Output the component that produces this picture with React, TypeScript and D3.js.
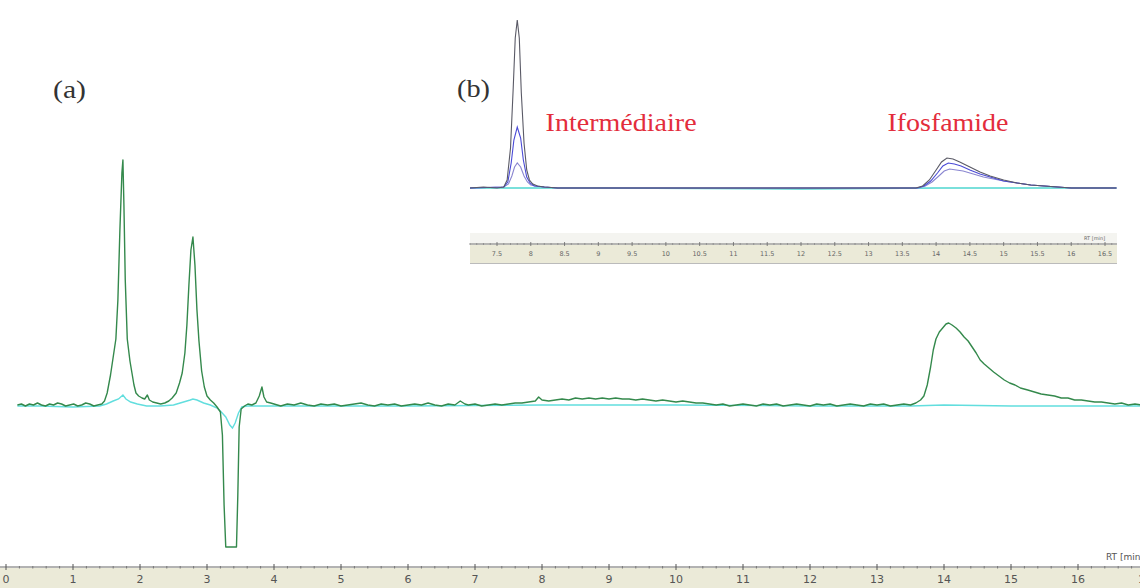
import React from 'react';
import * as d3 from 'd3';

const W = 1140;
const H = 588;

// ---- (a) main chromatogram: [retention time (min), signal (a.u.)] ----
const mainGreen: [number, number][] = [
  [0.17, 0], [0.23, 1], [0.29, -1], [0.35, 1], [0.41, 0], [0.47, 2], [0.53, 0], [0.59, -1], [0.65, 1], [0.71, 0],
  [0.77, 2], [0.83, 1], [0.89, -1], [0.95, 0], [1.01, 1], [1.07, -1], [1.13, 0], [1.19, 2], [1.25, 1], [1.31, -1],
  [1.37, 0], [1.43, 1], [1.47, 4], [1.51, 12], [1.56, 30], [1.60, 48], [1.64, 66], [1.67, 105], [1.70, 175], [1.73, 232],
  [1.745, 245], [1.76, 200], [1.78, 125], [1.81, 66], [1.85, 44], [1.88, 32], [1.91, 20], [1.94, 12], [1.98, 9], [2.03, 7],
  [2.07, 6], [2.11, 10], [2.14, 5], [2.19, 3], [2.25, 2], [2.31, 1], [2.37, 2], [2.43, 4], [2.48, 7], [2.54, 12],
  [2.59, 22], [2.63, 32], [2.67, 52], [2.70, 80], [2.73, 120], [2.76, 155], [2.79, 168], [2.82, 140], [2.85, 95], [2.88, 64],
  [2.92, 34], [2.96, 18], [3.00, 9], [3.05, 5], [3.10, 2], [3.15, -2], [3.20, -7], [3.23, -30], [3.255, -100], [3.28, -142],
  [3.44, -142], [3.46, -90], [3.48, -22], [3.51, -4], [3.56, -1], [3.61, 1], [3.67, 0], [3.73, 2], [3.78, 9], [3.82, 18],
  [3.85, 8], [3.89, 3], [3.95, 2], [4.0, 1], [4.1, -1], [4.2, 1], [4.3, 0], [4.4, 2], [4.5, 0], [4.6, -1],
  [4.7, 1], [4.8, 0], [4.9, 1], [5.0, -1], [5.1, 0], [5.2, 1], [5.3, 2], [5.4, 0], [5.5, -1], [5.6, 1],
  [5.7, 0], [5.8, 1], [5.9, -1], [6.0, 0], [6.1, 1], [6.2, 0], [6.3, 2], [6.4, 0], [6.5, -1], [6.6, 1],
  [6.7, 0], [6.78, 4], [6.85, 1], [6.9, 0], [7.0, 1], [7.1, -1], [7.2, 0], [7.3, 1], [7.4, 0], [7.5, 1],
  [7.6, 2], [7.7, 2], [7.8, 3], [7.9, 4], [7.95, 8], [8.0, 5], [8.1, 4], [8.2, 5], [8.3, 6], [8.4, 5],
  [8.5, 7], [8.6, 6], [8.7, 7], [8.8, 6], [8.9, 7], [9.0, 6], [9.1, 7], [9.2, 6], [9.3, 6], [9.4, 5],
  [9.5, 6], [9.6, 5], [9.7, 4], [9.8, 5], [9.9, 4], [10.0, 3], [10.1, 4], [10.2, 3], [10.3, 2], [10.4, 2],
  [10.5, 1], [10.6, 0], [10.7, 1], [10.8, -1], [10.9, 0], [11.0, 1], [11.1, 0], [11.2, -1], [11.3, 1], [11.4, 0],
  [11.5, 1], [11.6, -1], [11.7, 0], [11.8, 1], [11.9, 0], [12.0, -1], [12.1, 1], [12.2, 0], [12.3, 1], [12.4, -1],
  [12.5, 0], [12.6, 1], [12.7, 0], [12.8, -1], [12.9, 1], [13.0, 0], [13.1, 1], [13.2, -1], [13.3, 0], [13.4, 1],
  [13.5, 0], [13.58, 2], [13.65, 5], [13.70, 9], [13.75, 20], [13.80, 38], [13.84, 55], [13.88, 66], [13.93, 73], [13.98, 77],
  [14.03, 81], [14.07, 82], [14.12, 80], [14.18, 77], [14.24, 73], [14.30, 68], [14.36, 64], [14.42, 58], [14.48, 52], [14.54, 45],
  [14.60, 41], [14.67, 37], [14.74, 33], [14.82, 29], [14.90, 25], [14.98, 22], [15.06, 20], [15.14, 17], [15.25, 15], [15.35, 13],
  [15.45, 11], [15.55, 10], [15.65, 9], [15.75, 7], [15.85, 7], [15.95, 5], [16.05, 5], [16.15, 4], [16.25, 3], [16.35, 3],
  [16.45, 2], [16.55, 1], [16.65, 2], [16.75, 0], [16.85, 1], [16.95, 0],
];

const mainCyan: [number, number][] = [
  [0.17, -1], [0.5, -1], [1.0, -2], [1.4, -1], [1.5, 1], [1.6, 4], [1.68, 6], [1.745, 10], [1.79, 6], [1.86, 3],
  [1.96, 1], [2.1, -1], [2.3, -1], [2.5, 0], [2.65, 3], [2.75, 5], [2.79, 6], [2.85, 5], [2.95, 2], [3.05, 0],
  [3.15, -3], [3.2, -6], [3.28, -12], [3.34, -20], [3.38, -23], [3.42, -18], [3.47, -8], [3.52, -2], [3.6, -1], [4.0, -1],
  [6.0, -1], [8.0, 0], [10.0, 0], [12.0, -1], [13.5, -1], [14.0, 0], [15.0, -1], [16.95, -1],
];

const mainTickValues = [0, 1, 2, 3, 4, 5, 6, 7, 8, 9, 10, 11, 12, 13, 14, 15, 16, 17];

// ---- (b) inset: three injections (grey, blue, lavender) + blank (cyan) ----
const insetGrey: [number, number][] = [
  [7.1, 0], [7.3, 1], [7.5, 0], [7.6, 1], [7.65, 8], [7.7, 40], [7.74, 100], [7.77, 150], [7.80, 168], [7.83, 150],
  [7.86, 95], [7.9, 45], [7.94, 18], [7.98, 8], [8.03, 4], [8.1, 2], [8.2, 1], [8.4, 0], [13.7, 0], [13.8, 2],
  [13.9, 8], [14.0, 18], [14.08, 26], [14.16, 30], [14.25, 29], [14.35, 26], [14.5, 21], [14.65, 16], [14.8, 12], [15.0, 8],
  [15.2, 5], [15.4, 3], [15.6, 2], [15.8, 1], [16.0, 0], [16.67, 0],
];
const insetBlue: [number, number][] = [
  [7.1, 0], [7.6, 1], [7.66, 6], [7.71, 25], [7.75, 48], [7.80, 61], [7.85, 50], [7.89, 28], [7.94, 11], [7.99, 5],
  [8.05, 2], [8.2, 1], [8.4, 0], [13.72, 0], [13.82, 2], [13.92, 7], [14.02, 15], [14.1, 22], [14.18, 25], [14.27, 24],
  [14.37, 22], [14.5, 18], [14.65, 14], [14.8, 11], [15.0, 7], [15.2, 5], [15.4, 3], [15.6, 2], [15.8, 1], [16.0, 0],
  [16.67, 0],
];
const insetLavender: [number, number][] = [
  [7.1, 0], [7.6, 1], [7.67, 4], [7.72, 12], [7.76, 21], [7.80, 25], [7.85, 21], [7.9, 12], [7.95, 6], [8.0, 3],
  [8.08, 2], [8.2, 1], [8.4, 0], [13.74, 0], [13.84, 2], [13.94, 6], [14.04, 12], [14.12, 17], [14.2, 19], [14.3, 18],
  [14.4, 17], [14.55, 14], [14.7, 11], [14.85, 9], [15.0, 7], [15.2, 5], [15.4, 3], [15.6, 2], [15.8, 1], [16.0, 0],
  [16.67, 0],
];
const insetCyan: [number, number][] = [
  [7.1, 0], [9.0, 0], [12.0, -1], [14.0, 0], [16.67, 0],
];

const insetTickValues = [7.5, 8, 8.5, 9, 9.5, 10, 10.5, 11, 11.5, 12, 12.5, 13, 13.5, 14, 14.5, 15, 15.5, 16, 16.5];

const compoundLabels = ['Intermédiaire', 'Ifosfamide'];
const compoundLabelTimes = [8.22, 13.28];
const panelLabels = ['(a)', '(b)'];

export default function App() {
  const xMain = d3.scaleLinear().domain([0, 17]).range([6, 1145]);
  const yMain = d3.scaleLinear().domain([-150, 250]).range([555, 155]);
  const lineMain = d3
    .line<[number, number]>()
    .x((d) => xMain(d[0]))
    .y((d) => yMain(d[1]));

  const xIn = d3.scaleLinear().domain([7.5, 16.5]).range([497, 1105]);
  const yIn = d3.scaleLinear().domain([0, 170]).range([188, 18]);
  const lineIn = d3
    .line<[number, number]>()
    .x((d) => xIn(d[0]))
    .y((d) => yIn(d[1]));

  const mainMinor = d3.range(0, 17.01, 0.2).filter((v) => Math.abs(v - Math.round(v)) > 0.01);
  const insetMinor = d3.range(7.1, 16.7, 0.1).filter((v) => Math.abs(v * 2 - Math.round(v * 2)) > 0.01);

  const axisY = 567;
  const inAxisY = 244;
  const sans = 'DejaVu Sans, Verdana, sans-serif';
  const serif = 'Liberation Serif, Times New Roman, serif';
  const labelWidths = [151, 121];

  return (
    <svg
      width={W}
      height={H}
      viewBox={`0 0 ${W} ${H}`}
      style={{ position: 'absolute', left: 0, top: 0, background: '#fff' }}
    >
      <rect x={0} y={0} width={W} height={H} fill="#ffffff" />

      {/* main axis band */}
      <rect x={0} y={axisY + 1} width={W} height={H - axisY - 1} fill="#ebead8" />
      <line x1={0} x2={W} y1={axisY} y2={axisY} stroke="#666" strokeWidth={1} />
      {mainMinor.map((v) => (
        <line key={'mm' + v} x1={xMain(v)} x2={xMain(v)} y1={axisY - 1} y2={axisY + 1.5} stroke="#777" strokeWidth={1} />
      ))}
      {mainTickValues.map((v) => (
        <g key={'mt' + v}>
          <line x1={xMain(v)} x2={xMain(v)} y1={axisY - 3} y2={axisY + 3} stroke="#555" strokeWidth={1} />
          <text x={xMain(v)} y={583} textAnchor="middle" fontFamily={sans} fontSize={11} fill="#555">
            {v}
          </text>
        </g>
      ))}
      <text x={1106} y={560} fontFamily={sans} fontSize={9} fill="#555">RT [min]</text>

      {/* main traces */}
      <path d={lineMain(mainCyan) || ''} fill="none" stroke="#62dede" strokeWidth={1.4} />
      <path d={lineMain(mainGreen) || ''} fill="none" stroke="#34894c" strokeWidth={1.4} strokeLinejoin="round" />

      {/* inset axis */}
      <rect x={470} y={233} width={647} height={31} fill="#f4f4f0" />
      <rect x={470} y={inAxisY + 1} width={647} height={18} fill="#ebead8" />
      <line x1={470} x2={1117} y1={inAxisY} y2={inAxisY} stroke="#777" strokeWidth={1} />
      <line x1={470} x2={1117} y1={263.5} y2={263.5} stroke="#bbb" strokeWidth={1} />
      {insetMinor.map((v) => (
        <line key={'im' + v} x1={xIn(v)} x2={xIn(v)} y1={inAxisY - 1} y2={inAxisY + 1} stroke="#888" strokeWidth={0.8} />
      ))}
      {insetTickValues.map((v) => (
        <g key={'it' + v}>
          <line x1={xIn(v)} x2={xIn(v)} y1={inAxisY - 2} y2={inAxisY + 2} stroke="#666" strokeWidth={0.8} />
          <text x={xIn(v)} y={256} textAnchor="middle" fontFamily={sans} fontSize={6.5} fill="#666">
            {String(v)}
          </text>
        </g>
      ))}
      <text x={1084} y={240} fontFamily={sans} fontSize={5} fill="#666">RT [min]</text>

      {/* inset traces */}
      <path d={lineIn(insetCyan) || ''} fill="none" stroke="#4fd6d0" strokeWidth={1.4} />
      <path d={lineIn(insetLavender) || ''} fill="none" stroke="#8a86d0" strokeWidth={1.1} />
      <path d={lineIn(insetBlue) || ''} fill="none" stroke="#4a4ad6" strokeWidth={1.1} />
      <path d={lineIn(insetGrey) || ''} fill="none" stroke="#5a5a66" strokeWidth={1.1} />

      {/* labels */}
      <text x={53} y={98} fontFamily={serif} fontSize={25} fill="#333" textLength={33} lengthAdjust="spacingAndGlyphs">
        {panelLabels[0]}
      </text>
      <text x={457} y={97} fontFamily={serif} fontSize={25} fill="#333" textLength={33} lengthAdjust="spacingAndGlyphs">
        {panelLabels[1]}
      </text>
      {compoundLabels.map((s, i) => (
        <text
          key={s}
          x={xIn(compoundLabelTimes[i])}
          y={131}
          fontFamily={serif}
          fontSize={25}
          fill="#e32d3c"
          textLength={labelWidths[i]}
          lengthAdjust="spacingAndGlyphs"
        >
          {s}
        </text>
      ))}
    </svg>
  );
}
